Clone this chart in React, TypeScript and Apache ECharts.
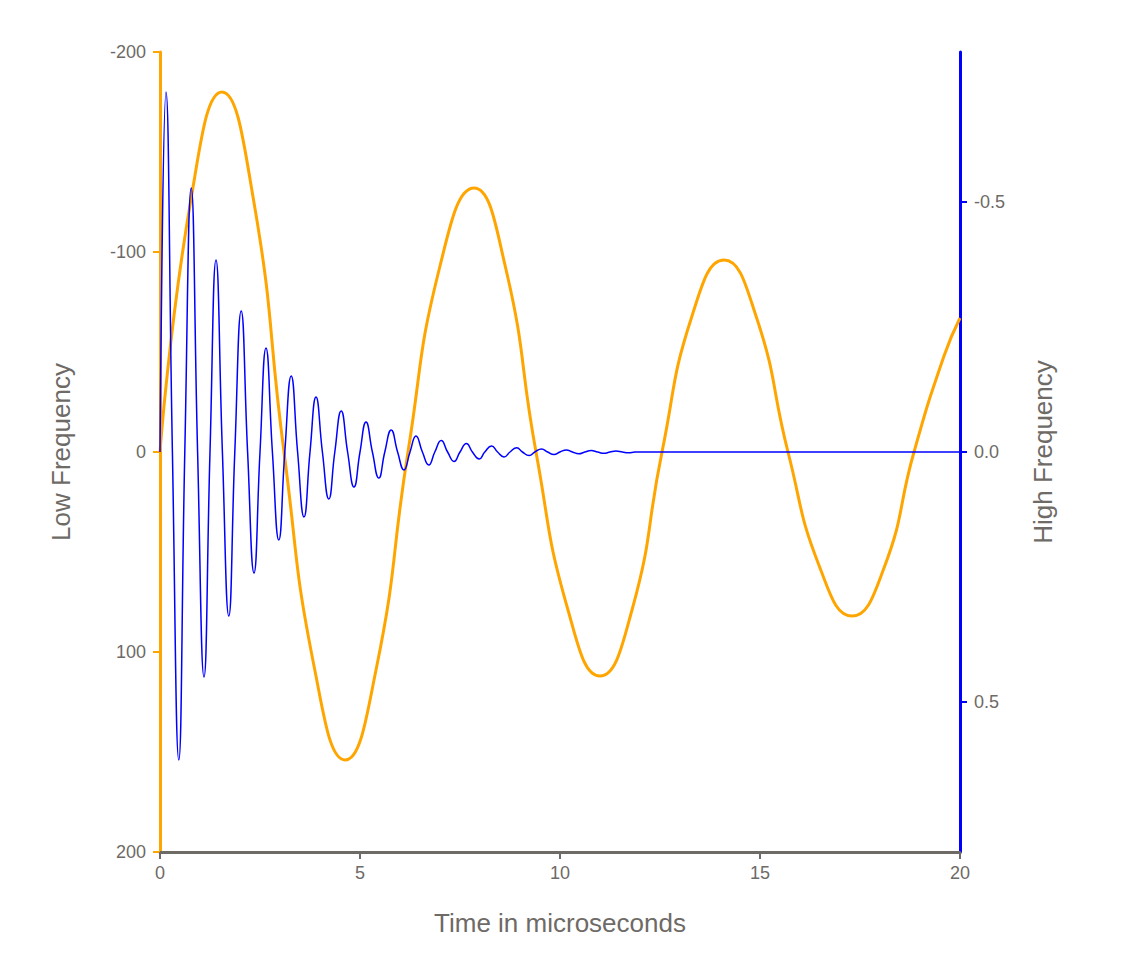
import { useEffect, useRef } from "react";
import * as echarts from "echarts";

// Low-frequency signal [time, value]
const lowFreq: number[][] = [
  [0, 0], [0.78, -127], [1.55, -180], [2.33, -127], [3.1, 0], [3.87, 109], [4.63, 154],
  [5.4, 109], [6.2, 0], [7.0, -93], [7.85, -132], [8.63, -93], [9.4, 0], [10.2, 79],
  [11.0, 112], [11.8, 79], [12.55, 0], [13.3, -68], [14.1, -96], [14.9, -68], [15.7, 0],
  [16.5, 58], [17.3, 82], [18.1, 58], [18.85, 0], [19.6, -48], [20, -67],
];

// High-frequency signal [time, value]: zero crossings and peaks
const highFreq: number[][] = [
  [0, 0], [0.15, -0.72], [0.31, 0], [0.47, 0.616], [0.62, 0], [0.78, -0.528], [0.94, 0],
  [1.1, 0.45], [1.25, 0], [1.4, -0.384], [1.56, 0], [1.72, 0.328], [1.87, 0], [2.03, -0.282],
  [2.19, 0], [2.35, 0.242], [2.5, 0], [2.65, -0.208], [2.81, 0], [2.97, 0.176], [3.12, 0],
  [3.28, -0.152], [3.44, 0], [3.6, 0.13], [3.75, 0], [3.9, -0.11], [4.06, 0], [4.22, 0.094],
  [4.37, 0], [4.53, -0.082], [4.69, 0], [4.85, 0.07], [5.0, 0], [5.15, -0.06], [5.31, 0],
  [5.47, 0.052], [5.62, 0], [5.78, -0.044], [5.94, 0], [6.1, 0.036], [6.25, 0], [6.4, -0.032],
  [6.56, 0], [6.72, 0.026], [6.87, 0], [7.03, -0.023], [7.19, 0], [7.35, 0.019], [7.5, 0],
  [7.66, -0.017], [7.81, 0], [7.98, 0.014], [8.12, 0], [8.29, -0.012], [8.44, 0], [8.6, 0.01],
  [8.75, 0], [8.92, -0.0085], [9.06, 0], [9.23, 0.007], [9.37, 0], [9.54, -0.006], [9.69, 0],
  [9.85, 0.005], [10.0, 0], [10.16, -0.004], [10.31, 0], [10.47, 0.0035], [10.62, 0],
  [10.78, -0.003], [10.94, 0], [11.1, 0.0025], [11.25, 0], [11.4, -0.002], [11.56, 0],
  [11.72, 0.0016], [11.87, 0], [12.5, 0], [20, 0],
];

const xTicks = [0, 5, 10, 15, 20];
const rightTicks = [-0.5, 0, 0.5];

const gray = "#6e6a66";
const font = "Liberation Sans";

export default function App() {
  const ref = useRef<HTMLDivElement>(null);

  useEffect(() => {
    if (!ref.current) return;
    const chart = echarts.init(ref.current, null, { renderer: "svg" });
    chart.setOption({
      animation: false,
      textStyle: { fontFamily: font },
      grid: { left: 160, right: 172, top: 52, bottom: 128 },
      xAxis: {
        type: "value", min: 0, max: 20, interval: 5,
        name: "Time in microseconds", nameLocation: "middle", nameGap: 58,
        nameTextStyle: { color: gray, fontSize: 26, fontFamily: font },
        axisLine: { onZero: false, lineStyle: { color: gray, width: 3 } },
        axisTick: { show: true, customValues: xTicks, length: 7, lineStyle: { color: gray, width: 2 } },
        axisLabel: { color: gray, fontSize: 18, margin: 12 },
        splitLine: { show: false },
      },
      yAxis: [
        {
          type: "value", min: -200, max: 200, interval: 100, inverse: true,
          name: "Low Frequency", nameLocation: "middle", nameGap: 86,
          nameTextStyle: { color: gray, fontSize: 26, fontFamily: font },
          axisLine: { show: true, onZero: false, lineStyle: { color: "orange", width: 3 } },
          axisTick: { show: true, length: 7, lineStyle: { color: "orange", width: 2 } },
          axisLabel: { color: gray, fontSize: 18, margin: 14 },
          splitLine: { show: false },
        },
        {
          type: "value", min: -0.8, max: 0.8, inverse: true, position: "right",
          name: "High Frequency", nameLocation: "middle", nameGap: 70,
          nameTextStyle: { color: gray, fontSize: 26, fontFamily: font },
          axisLine: { show: true, onZero: false, lineStyle: { color: "blue", width: 3 } },
          axisTick: { show: true, customValues: rightTicks, length: 7, lineStyle: { color: "blue", width: 2 } },
          axisLabel: { color: gray, fontSize: 18, margin: 14, customValues: rightTicks, formatter: (v: number) => v.toFixed(1) },
          splitLine: { show: false },
        },
      ],
      series: [
        {
          type: "line", yAxisIndex: 0, data: lowFreq, smooth: 0.5, showSymbol: false,
          lineStyle: { color: "orange", width: 3 }, z: 2,
        },
        {
          type: "line", yAxisIndex: 1, data: highFreq, smooth: 0.5, showSymbol: false,
          lineStyle: { color: "blue", width: 1.5 }, z: 3,
        },
      ],
    });
    return () => chart.dispose();
  }, []);

  return <div ref={ref} style={{ position: "absolute", left: 0, top: 0, width: 1132, height: 980 }} />;
}
